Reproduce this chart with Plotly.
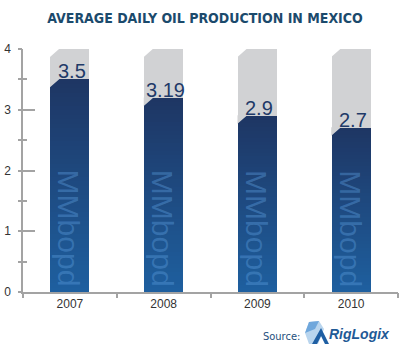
import plotly.graph_objects as go

# ---- data ----
years = ["2007", "2008", "2009", "2010"]
production = [3.5, 3.19, 2.9, 2.7]
value_labels = ["3.5", "3.19", "2.9", "2.7"]
scale_max = [4, 4, 4, 4]
unit_label = "MMbopd"
y_ticks = [0, 1, 2, 3, 4]
title_text = "AVERAGE DAILY OIL PRODUCTION IN MEXICO"

# ---- style ----
W, H = 400, 356
ML, MR, MT, MB = 23, 2, 49, 64
BAR_W = 0.416
N_STEPS = 48
TOP_RGB = (30, 54, 100)
BOT_RGB = (30, 96, 160)
GRAY = "#d1d2d4"
AXIS = "#a3a3a3"
NAVY = "#1f3a68"
CHAMFER_DX = 0.1
CHAMFER_DY = 0.13
NARROW = "DejaVu Sans Condensed, Liberation Sans Narrow, sans-serif"
SANS = "Liberation Sans, Arial, sans-serif"

xpos = list(range(len(years)))
xmin, xmax = -0.5, len(years) - 0.5
ymin, ymax = 0, max(scale_max)


def mix(f):
    r = [round(b + (t - b) * f) for t, b in zip(TOP_RGB, BOT_RGB)]
    return "rgb(%d,%d,%d)" % tuple(r)


fig = go.Figure()

# gray background columns
fig.add_bar(x=xpos, y=scale_max, width=BAR_W, marker=dict(color=GRAY, line_width=0),
            hoverinfo="skip", showlegend=False)

# gradient value bars (stack of shrinking bars, dark on top -> lighter at the bottom)
for k in range(N_STEPS):
    f = 1 - k / N_STEPS
    fig.add_bar(x=xpos, y=[v * f for v in production], width=BAR_W,
                marker=dict(color=mix(f), line_width=0), hoverinfo="skip", showlegend=False)


# chamfered top-left corners
def corners(levels, color):
    xs, ys = [], []
    for x, lv in zip(xpos, levels):
        x0 = x - BAR_W / 2 - 0.004
        xs += [x0, x0 + CHAMFER_DX + 0.004, x0, x0, None]
        ys += [lv + 0.01, lv + 0.01, lv - CHAMFER_DY, lv + 0.01, None]
    fig.add_scatter(x=xs, y=ys, mode="lines", fill="toself", fillcolor=color,
                    line=dict(width=0, color=color), hoverinfo="skip", showlegend=False)


corners(production, GRAY)
corners(scale_max, "white")

# dummy trace for the overlay axes (outer ticks)
fig.add_scatter(x=[0], y=[0], xaxis="x2", yaxis="y2", mode="markers",
                marker=dict(opacity=0), hoverinfo="skip", showlegend=False)

annotations = []
for x, v, lab in zip(xpos, production, value_labels):
    annotations.append(dict(x=x, y=v, text=lab, showarrow=False, xanchor="center", yanchor="bottom",
                            xshift=2, yshift=-5, font=dict(family=SANS, size=20, color=NAVY)))
    annotations.append(dict(x=x, y=0, text=unit_label, showarrow=False, textangle=90,
                            xanchor="center", yanchor="bottom", xshift=-1, yshift=3,
                            font=dict(family=SANS, size=30, color="rgba(90,155,220,0.42)")))


def px(xp):
    return (xp - ML) / (W - ML - MR)


def py(yp):
    return (H - MB - yp) / (H - MT - MB)


annotations.append(dict(xref="paper", yref="paper", x=px(281), y=py(336), text="Source:",
                        showarrow=False, xanchor="center", yanchor="middle",
                        font=dict(family=NARROW, size=11, color="#1e4f7d")))
annotations.append(dict(xref="paper", yref="paper", x=px(359), y=py(334), text="<b><i>RigLogix</i></b>",
                        showarrow=False, xanchor="center", yanchor="middle",
                        font=dict(family=SANS, size=14, color="#1f5a96")))


def path(points):
    return "M " + " L ".join("%.4f,%.4f" % (px(a), py(b)) for a, b in points) + " Z"


shapes = [
    dict(type="path", xref="paper", yref="paper", line_width=0, fillcolor="#b9d5ee",
         path=path([(309, 322), (319, 321), (324, 329), (318, 344), (309, 344), (305, 333)])),
    dict(type="path", xref="paper", yref="paper", line_width=0, fillcolor="#6fa7dc",
         path=path([(309, 322), (319, 321), (315, 329), (305, 333)])),
    dict(type="path", xref="paper", yref="paper", line_width=0, fillcolor="#1f5fa3",
         path=path([(312, 344), (321, 328), (329, 344), (325, 344), (321, 336), (317, 344)])),
]

fig.update_layout(
    width=W, height=H,
    margin=dict(l=ML, r=MR, t=MT, b=MB, pad=0),
    paper_bgcolor="white", plot_bgcolor="white",
    barmode="overlay", bargap=0,
    showlegend=False,
    title=dict(text="<b>" + title_text + "</b>", x=205 / W, xref="container", xanchor="center",
               y=1 - 18 / H, yref="container", yanchor="middle",
               font=dict(family=NARROW, size=14, color="#1b4a6c")),
    xaxis=dict(range=[xmin, xmax], tickvals=xpos, ticktext=years, ticks="",
               showline=True, linecolor=AXIS, linewidth=1.5, showgrid=False, zeroline=False,
               tickfont=dict(family=SANS, size=12, color="#333333"), fixedrange=True),
    xaxis2=dict(overlaying="x", anchor="y2", range=[xmin, xmax],
                tickvals=[x - 0.5 for x in xpos] + [xmax], ticks="outside", ticklen=5,
                tickcolor=AXIS, tickwidth=1.5, showticklabels=False, showline=False,
                showgrid=False, zeroline=False, fixedrange=True, side="bottom"),
    yaxis=dict(range=[ymin, ymax], tickvals=y_ticks, ticks="inside", ticklen=12,
               tickcolor=AXIS, tickwidth=1.5,
               minor=dict(ticks="inside", ticklen=4, dtick=0.5, tickcolor=AXIS, tickwidth=1.5,
                          showgrid=False),
               showline=True, linecolor=AXIS, linewidth=1.5, showgrid=False, zeroline=False,
               ticklabelstandoff=8,
               tickfont=dict(family=SANS, size=12, color="#333333"), fixedrange=True),
    yaxis2=dict(overlaying="y", anchor="x2", side="left", range=[ymin, ymax], tickvals=y_ticks,
                ticks="outside", ticklen=4, tickcolor=AXIS, tickwidth=1.5,
                minor=dict(ticks="outside", ticklen=4, dtick=0.5, tickcolor=AXIS, tickwidth=1.5,
                           showgrid=False),
                showticklabels=False, showline=False, showgrid=False, zeroline=False,
                fixedrange=True),
    annotations=annotations,
    shapes=shapes,
)

fig.write_html("out.html", config=dict(displayModeBar=False),
               post_script="document.body.style.margin='0';")
